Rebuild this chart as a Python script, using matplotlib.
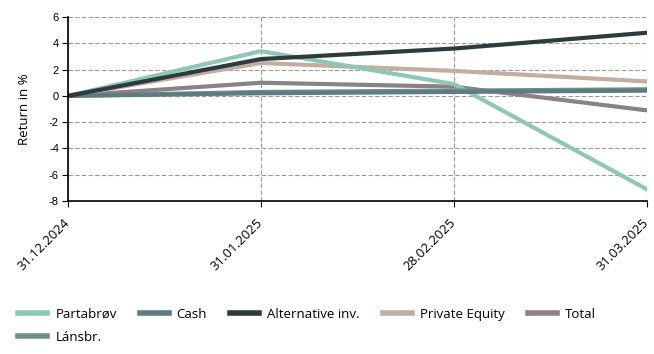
import matplotlib.pyplot as plt
from matplotlib.lines import Line2D

plt.rcParams['font.family'] = ['Open Sans', 'DejaVu Sans']

dates = ["31.12.2024", "31.01.2025", "28.02.2025", "31.03.2025"]
partabrov = [0, 3.4, 0.9, -7.1]
cash = [0, 0.2, 0.3, 0.4]
alternative = [0, 2.8, 3.6, 4.8]
private_equity = [0, 2.5, 1.9, 1.1]
total = [0, 1.0, 0.7, -1.1]
lansbr = [0, 0.3, 0.4, 0.5]

series = [
    ("Partabrøv", partabrov, "#8fc7b6"),
    ("Cash", cash, "#5e7b80"),
    ("Alternative inv.", alternative, "#2c3b3e"),
    ("Private Equity", private_equity, "#c2ada0"),
    ("Total", total, "#8b8186"),
    ("Lánsbr.", lansbr, "#6f9184"),
]

fig = plt.figure(figsize=(6.54, 3.54), dpi=100)
ax = fig.add_axes([0.104, 0.432, 0.885, 0.52])

x = range(len(dates))
# back-to-front order roughly as in the reference
for name, vals, col in [series[4], series[3], series[0], series[5], series[1], series[2]]:
    ax.plot(x, vals, color=col, lw=3, solid_capstyle='round', label=name)

ax.set_xlim(0, len(dates) - 1)
ax.set_ylim(-8, 6)
ax.set_yticks(range(-8, 7, 2))
ax.set_yticklabels([str(v) for v in range(-8, 7, 2)], family='Liberation Sans', fontsize=8)
ax.set_xticks(list(x))
ax.set_xticklabels(dates, rotation=45, ha='right', va='center', rotation_mode='anchor', fontsize=9.5)
ax.tick_params(axis='y', length=4.5, pad=2)
ax.tick_params(axis='x', length=4, pad=10)
ax.grid(True, ls=(0, (4, 2)), color='#9a9a9a', lw=0.8)
ax.spines['top'].set_visible(False)
ax.spines['right'].set_visible(False)
ax.spines['left'].set_linewidth(1.2)
ax.spines['bottom'].set_linewidth(1.2)
ax.set_ylabel("Return in %", fontsize=9.5, labelpad=13)

order = [0, 5, 1, 2, 3, 4]
handles = [Line2D([], [], color=series[i][2], lw=4) for i in order]
labels = [series[i][0] for i in order]
fig.legend(handles, labels, loc='upper left', bbox_to_anchor=(0.02, 0.145), ncol=5,
           frameon=False, fontsize=9.5, handlelength=2.2, handletextpad=0.6,
           columnspacing=1.75, labelspacing=0.75, borderaxespad=0)

fig.savefig("out.png", dpi=100)
